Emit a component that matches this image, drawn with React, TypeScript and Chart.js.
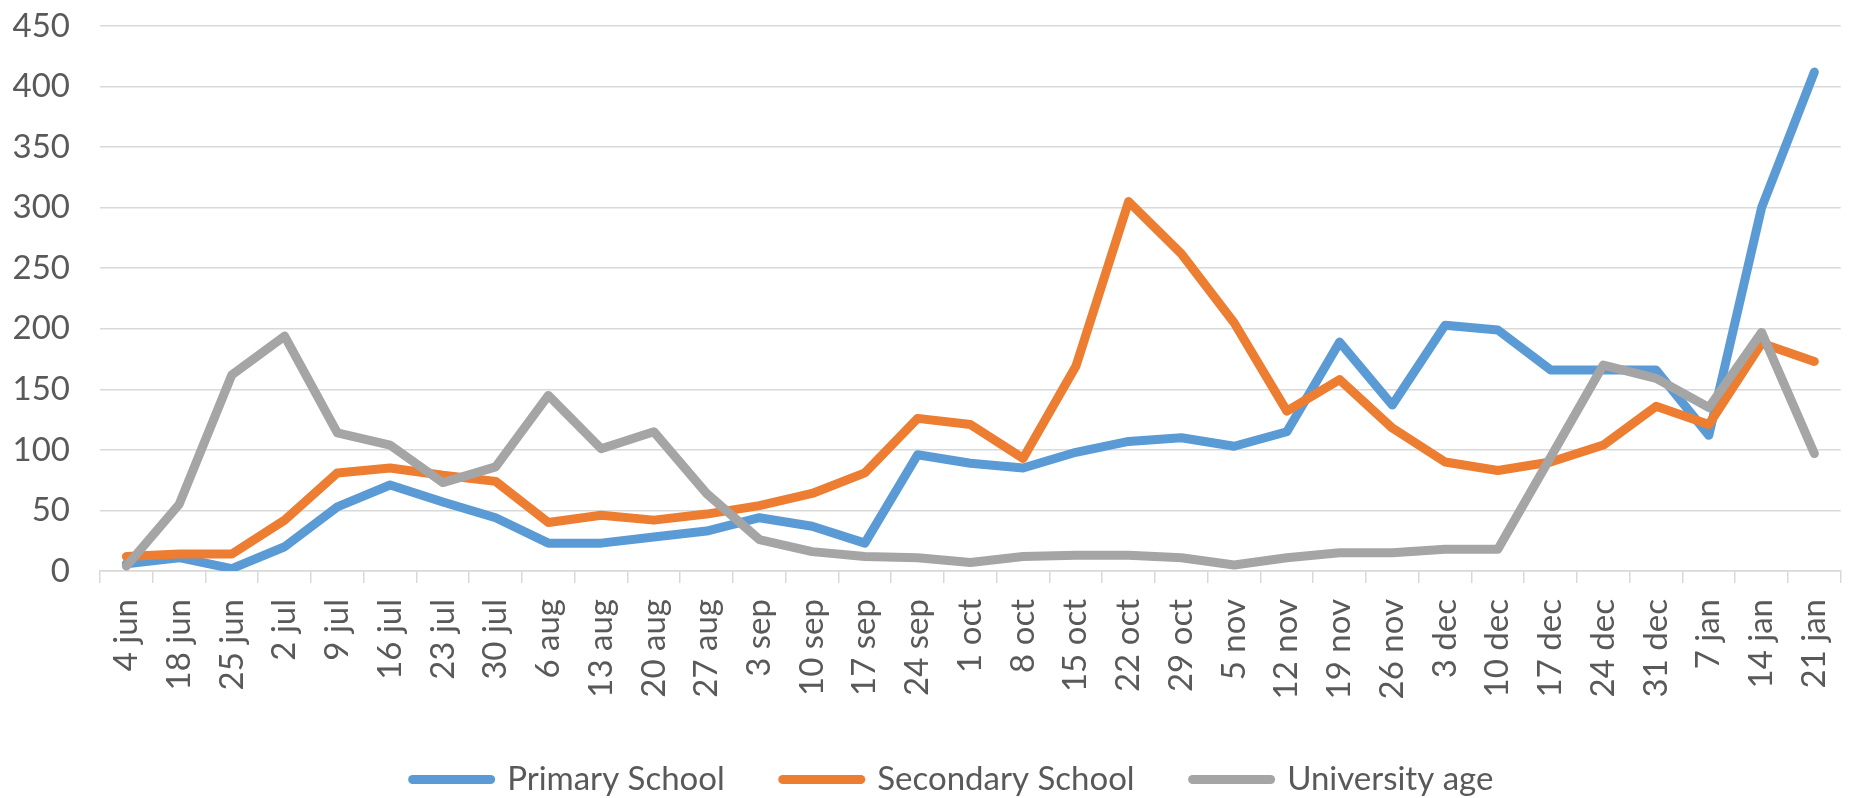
import React, { useEffect, useRef } from "react";
import { Chart, registerables } from "chart.js";

Chart.register(...registerables);

const categories = [
  "4 jun", "18 jun", "25 jun", "2 jul", "9 jul", "16 jul", "23 jul", "30 jul",
  "6 aug", "13 aug", "20 aug", "27 aug", "3 sep", "10 sep", "17 sep", "24 sep",
  "1 oct", "8 oct", "15 oct", "22 oct", "29 oct", "5 nov", "12 nov", "19 nov",
  "26 nov", "3 dec", "10 dec", "17 dec", "24 dec", "31 dec", "7 jan", "14 jan", "21 jan",
];

const primarySchool = [
  6, 11, 2, 20, 53, 71, 57, 44, 23, 23, 28, 33, 44, 37, 23, 96, 89, 85, 98, 107,
  110, 103, 115, 189, 137, 203, 199, 166, 166, 166, 112, 300, 412,
];

const secondarySchool = [
  12, 14, 14, 42, 81, 85, 79, 74, 40, 46, 42, 47, 54, 64, 81, 126, 121, 93, 169, 305,
  262, 205, 132, 158, 118, 90, 83, 90, 104, 136, 121, 188, 173,
];

const universityAge = [
  4, 55, 162, 194, 114, 104, 73, 86, 145, 101, 115, 64, 26, 16, 12, 11, 7, 12, 13, 13,
  11, 5, 11, 15, 15, 18, 18, 94, 170, 159, 135, 197, 97,
];

const seriesNames = ["Primary School", "Secondary School", "University age"];
const seriesColors = ["#5B9BD5", "#ED7D31", "#A5A5A5"];

const Y_MIN = 0;
const Y_MAX = 450;
const Y_STEP = 50;

const FONT = "Lato, 'Noto Sans', sans-serif";
const TEXT_COLOR = "#595959";
const GRID_COLOR = "#D9D9D9";
const CANVAS_W = 1870;
const CANVAS_H = 806;
const PLOT_TOP = 26;
const PLOT_BOTTOM = 571;
const PLOT_LEFT = 100;
const LEGEND_SHIFT = 40;

const legendShift = {
  id: "legendShift",
  afterLayout(chart: any) {
    if (chart.legend) chart.legend.left += LEGEND_SHIFT;
  },
};

export default function App() {
  const ref = useRef<HTMLCanvasElement>(null);

  useEffect(() => {
    let chart: Chart | null = null;
    let cancelled = false;

    const build = () => {
      if (cancelled || !ref.current) return;
      const seriesData = [primarySchool, secondarySchool, universityAge];
      chart = new Chart(ref.current, {
        type: "line",
        plugins: [legendShift],
        data: {
          labels: categories,
          datasets: seriesData.map((d, i) => ({
            label: seriesNames[i],
            data: d,
            borderColor: seriesColors[i],
            backgroundColor: seriesColors[i],
            borderWidth: 9,
            borderCapStyle: "round",
            borderJoinStyle: "round",
            pointRadius: 0,
            pointHoverRadius: 0,
            tension: 0,
            fill: false,
            order: 3 - i,
          })),
        },
        options: {
          responsive: false,
          animation: false,
          events: [],
          layout: { padding: { top: PLOT_TOP, right: 4, left: 0, bottom: 0 } },
          plugins: {
            tooltip: { enabled: false },
            legend: {
              position: "bottom",
              labels: {
                usePointStyle: true,
                pointStyleWidth: 78,
                boxHeight: 33,
                padding: 58,
                color: TEXT_COLOR,
                font: { family: FONT, size: 33 },
                generateLabels: () =>
                  seriesNames.map((name, i) => ({
                    text: name,
                    fillStyle: seriesColors[i],
                    strokeStyle: seriesColors[i],
                    fontColor: TEXT_COLOR,
                    lineWidth: 9,
                    lineCap: "round",
                    pointStyle: "line",
                    hidden: false,
                    datasetIndex: i,
                  })) as any,
              },
            },
          },
          scales: {
            x: {
              type: "category",
              offset: true,
              border: { display: true, color: GRID_COLOR, width: 1.5 },
              grid: {
                display: true,
                offset: true,
                drawOnChartArea: false,
                drawTicks: true,
                tickLength: 12,
                color: GRID_COLOR,
                lineWidth: 1.5,
              },
              ticks: {
                autoSkip: false,
                minRotation: 90,
                maxRotation: 90,
                padding: 16,
                color: TEXT_COLOR,
                font: { family: FONT, size: 33 },
              },
              afterFit: (s: any) => {
                const legendH = s.chart.legend ? s.chart.legend.height : 0;
                s.height = s.chart.height - PLOT_BOTTOM - legendH;
              },
            },
            y: {
              min: Y_MIN,
              max: Y_MAX,
              border: { display: false },
              grid: {
                color: GRID_COLOR,
                lineWidth: 1.5,
                drawTicks: false,
              },
              ticks: {
                stepSize: Y_STEP,
                padding: 30,
                color: TEXT_COLOR,
                font: { family: FONT, size: 33 },
              },
              afterFit: (s: any) => {
                s.width = PLOT_LEFT;
                s.paddingTop = 0;
                s.paddingBottom = 0;
              },
            },
          },
        } as any,
      });
    };

    const fonts = (document as any).fonts;
    if (fonts && fonts.load) {
      fonts.load("33px Lato").then(build, build);
    } else {
      build();
    }

    return () => {
      cancelled = true;
      if (chart) chart.destroy();
    };
  }, []);

  return (
    <div
      style={{
        position: "fixed",
        left: 0,
        top: 0,
        width: CANVAS_W,
        height: CANVAS_H,
        background: "#ffffff",
      }}
    >
      <canvas
        ref={ref}
        width={CANVAS_W}
        height={CANVAS_H}
        style={{ display: "block", width: CANVAS_W, height: CANVAS_H }}
      />
    </div>
  );
}
